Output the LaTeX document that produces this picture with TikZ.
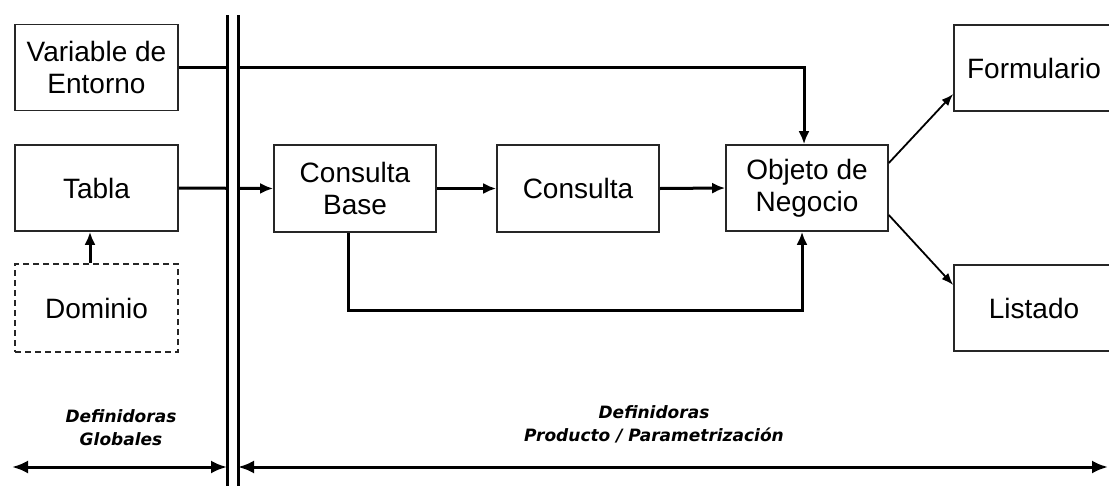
\documentclass[tikz,border=0pt]{standalone}
\usepackage{fontspec}
\setmainfont{Liberation Sans}
\newfontfamily\labfont{DejaVu Sans}
\usetikzlibrary{arrows.meta}
\begin{document}
\begin{tikzpicture}[x=1pt,y=-1pt,
  box/.style={draw=black!85,line width=1.6pt,rectangle,minimum width=163pt,minimum height=86pt,inner sep=0pt,align=center,font=\fontsize{28}{32}\selectfont},
  conn/.style={line width=3pt,-{Latex[length=13pt,width=11pt]}},
  thin conn/.style={line width=1.8pt,-{Latex[length=12pt,width=9pt]}},
  span/.style={line width=3pt,{Latex[length=16pt,width=13pt]}-{Latex[length=16pt,width=13pt]}},
  lab/.style={align=center,font=\labfont\bfseries\itshape\fontsize{17}{23}\selectfont}]
\useasboundingbox (0,0) rectangle (1109,485);
\clip (0,0) rectangle (1109,485);
\fill[white] (0,0) rectangle (1109,485);
\node[box] (var) at (96.5,67.5) {Variable de\\Entorno};
\node[box] (tabla) at (96.5,188) {Tabla};
\node[box,dash pattern=on 6pt off 4pt,minimum height=88pt] (dom) at (96.5,308) {Dominio};
\node[box,minimum width=162pt,minimum height=87pt] (cb) at (355,188.5) {Consulta\\Base};
\node[box,minimum width=162pt,minimum height=87pt] (cons) at (578,188.5) {Consulta};
\node[box,minimum width=162pt] (obj) at (807,188) {Objeto de\\Negocio};
\node[box,minimum width=160pt] (form) at (1034,68) {Formulario};
\node[box,minimum width=160pt] (list) at (1034,308) {Listado};
\draw[conn] (var.east) -| ([xshift=-3pt]obj.north);
\draw[conn] (tabla.east) -- (cb.west);
\draw[conn] (cb.east) -- (cons.west);
\draw[conn] (cons.east) -- (obj.west);
\draw[conn] ([xshift=-7pt]cb.south) |- (560,310) -| ([xshift=-5pt]obj.south);
\draw[conn] ([xshift=-6.5pt]dom.north) -- ([xshift=-6.5pt]tabla.south);
\draw[thin conn] ([yshift=25pt]obj.east) -- ([yshift=-26pt]form.west);
\draw[thin conn] ([yshift=-27pt]obj.east) -- ([yshift=23pt]list.west);
\coordinate (l1) at (12,467);
\coordinate (l2) at (227,467);
\coordinate (r1) at (238,467);
\coordinate (r2) at (1108,467);
\draw[span] (l1) -- (l2);
\draw[span] (r1) -- (r2);
\node[lab] (glob) at (121,428) {Definidoras\\Globales};
\node[lab] (prod) at (654,424) {Definidoras\\Producto / Parametrización};
\draw[line width=3pt,double=white,double distance=8pt] (232.5,15) -- (232.5,490);
\end{tikzpicture}
\end{document}
